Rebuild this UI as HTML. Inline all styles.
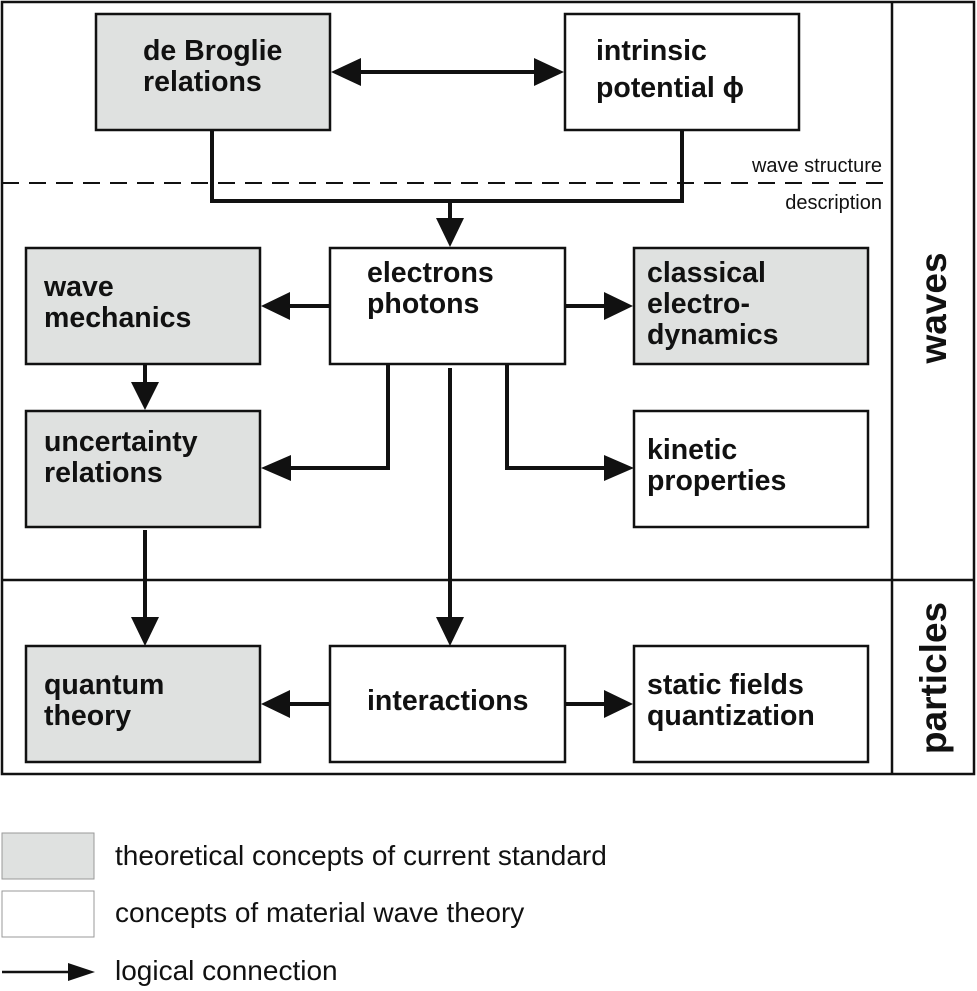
<!DOCTYPE html>
<html><head><meta charset="utf-8"><style>
html,body{margin:0;padding:0;background:#fff}
svg{display:block}
.b{font-family:"Liberation Sans",Arial,sans-serif;font-weight:bold;font-size:28.5px;fill:#111}
.s{font-family:"Liberation Sans",Arial,sans-serif;font-size:20px;fill:#111}
.l{font-family:"Liberation Sans",Arial,sans-serif;font-size:28px;fill:#111}
.g{fill:#dfe1e0;stroke:#111;stroke-width:2.5}
.w{fill:#fff;stroke:#111;stroke-width:2.5}
.c{fill:none;stroke:#111;stroke-width:4}
</style></head><body>
<svg width="977" height="991" viewBox="0 0 977 991" xmlns="http://www.w3.org/2000/svg">
<rect x="2" y="2" width="972" height="772" fill="none" stroke="#111" stroke-width="2.5"/>
<line x1="892" y1="2" x2="892" y2="774" stroke="#111" stroke-width="2.5"/>
<line x1="2" y1="580" x2="974" y2="580" stroke="#111" stroke-width="2.5"/>
<line x1="2" y1="183" x2="885" y2="183" stroke="#111" stroke-width="2" stroke-dasharray="17,10"/>
<text class="s" x="882" y="172" text-anchor="end">wave structure</text>
<text class="s" x="882" y="209" text-anchor="end">description</text>
<text class="b" transform="translate(946,308) rotate(-90)" text-anchor="middle" style="font-size:37px">waves</text>
<text class="b" transform="translate(946,678) rotate(-90)" text-anchor="middle" style="font-size:37px">particles</text>

<line class="c" x1="360" y1="72" x2="535" y2="72"/>
<polygon points="331,72 361,58 361,86" fill="#111"/>
<polygon points="564,72 534,58 534,86" fill="#111"/>
<polyline class="c" points="212,130 212,201 682,201 682,130"/>
<line class="c" x1="450" y1="201" x2="450" y2="220"/>
<polygon points="450,247 436,218 464,218" fill="#111"/>

<line class="c" x1="330" y1="306" x2="288" y2="306"/>
<polygon points="261,306 290,292 290,320" fill="#111"/>
<line class="c" x1="565" y1="306" x2="606" y2="306"/>
<polygon points="633,306 604,292 604,320" fill="#111"/>

<line class="c" x1="145" y1="364" x2="145" y2="384"/>
<polygon points="145,410 131,382 159,382" fill="#111"/>

<polyline class="c" points="388,364 388,468 288,468"/>
<polygon points="261,468 291,455 291,481" fill="#111"/>
<polyline class="c" points="507,364 507,468 606,468"/>
<polygon points="634,468 604,455 604,481" fill="#111"/>

<line class="c" x1="450" y1="368" x2="450" y2="620"/>
<polygon points="450,646 436,617 464,617" fill="#111"/>
<line class="c" x1="145" y1="530" x2="145" y2="620"/>
<polygon points="145,646 131,617 159,617" fill="#111"/>

<line class="c" x1="330" y1="704" x2="288" y2="704"/>
<polygon points="261,704 290,690 290,718" fill="#111"/>
<line class="c" x1="565" y1="704" x2="606" y2="704"/>
<polygon points="633,704 604,690 604,718" fill="#111"/>

<rect class="g" x="96" y="14" width="234" height="116"/>
<text class="b" x="143" y="60">de Broglie</text><text class="b" x="143" y="91">relations</text>
<rect class="w" x="565" y="14" width="234" height="116"/>
<text class="b" x="596" y="60">intrinsic</text><text class="b" x="596" y="97">potential ϕ</text>

<rect class="g" x="26" y="248" width="234" height="116"/>
<text class="b" x="44" y="296">wave</text><text class="b" x="44" y="327">mechanics</text>
<rect class="w" x="330" y="248" width="235" height="116"/>
<text class="b" x="367" y="282">electrons</text><text class="b" x="367" y="313">photons</text>
<rect class="g" x="634" y="248" width="234" height="116"/>
<text class="b" x="647" y="282">classical</text><text class="b" x="647" y="313">electro-</text><text class="b" x="647" y="344">dynamics</text>

<rect class="g" x="26" y="411" width="234" height="116"/>
<text class="b" x="44" y="451">uncertainty</text><text class="b" x="44" y="482">relations</text>
<rect class="w" x="634" y="411" width="234" height="116"/>
<text class="b" x="647" y="459">kinetic</text><text class="b" x="647" y="490">properties</text>

<rect class="g" x="26" y="646" width="234" height="116"/>
<text class="b" x="44" y="694">quantum</text><text class="b" x="44" y="725">theory</text>
<rect class="w" x="330" y="646" width="235" height="116"/>
<text class="b" x="367" y="710">interactions</text>
<rect class="w" x="634" y="646" width="234" height="116"/>
<text class="b" x="647" y="694">static fields</text><text class="b" x="647" y="725">quantization</text>

<rect x="2" y="833" width="92" height="46" fill="#dfe1e0" stroke="#999" stroke-width="1"/>
<text class="l" x="115" y="865">theoretical concepts of current standard</text>
<rect x="2" y="891" width="92" height="46" fill="#fff" stroke="#999" stroke-width="1"/>
<text class="l" x="115" y="922">concepts of material wave theory</text>
<line x1="2" y1="972" x2="72" y2="972" stroke="#111" stroke-width="2.5"/>
<polygon points="95,972 68,963 68,981" fill="#111"/>
<text class="l" x="115" y="980">logical connection</text>
</svg>
</body></html>
